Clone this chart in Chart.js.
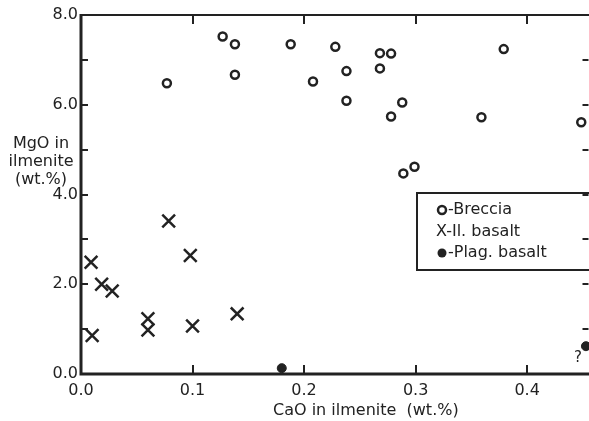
<!DOCTYPE html>
<html>
<head>
<meta charset="utf-8">
<script src="https://cdn.jsdelivr.net/npm/chart.js@4.4.1/dist/chart.umd.min.js"></script>
<style>
  html, body { margin: 0; padding: 0; background: #fff; overflow: hidden; }
  canvas { display: block; }
</style>
</head>
<body>
<canvas id="mgoChart" width="600" height="421"></canvas>
<script>
// ── values: CaO (wt.%) vs MgO (wt.%) in ilmenite
const brecciaCaO = [0.077, 0.127, 0.138, 0.138, 0.188, 0.228, 0.208, 0.238, 0.238, 0.268,
                    0.278, 0.268, 0.288, 0.278, 0.289, 0.299, 0.379, 0.359, 0.4485];
const brecciaMgO = [6.48, 7.52, 7.35, 6.67, 7.35, 7.29, 6.52, 6.75, 6.09, 7.15,
                    7.14, 6.81, 6.05, 5.74, 4.47, 4.62, 7.24, 5.72, 5.61];

const ilBasaltCaO = [0.009, 0.0185, 0.028, 0.010, 0.060, 0.060, 0.0786, 0.098, 0.100, 0.140];
const ilBasaltMgO = [2.49, 2.00, 1.85, 0.86, 1.23, 0.98, 3.41, 2.64, 1.07, 1.34];

const plagBasaltCaO = [0.180, 0.4527];
const plagBasaltMgO = [0.13, 0.62];

const xTicks = [0.0, 0.1, 0.2, 0.3, 0.4];
const yTicks = [0, 2, 4, 6, 8];
const yMinorTicks = [1, 2, 3, 4, 5, 6, 7];

const seriesNames = ["Breccia", "Il. basalt", "Plag. basalt"];
const xTitle = "CaO in ilmenite  (wt.%)";
const yTitle = ["MgO in", "ilmenite", "(wt.%)"];

const INK = "#222";
const FONT = "16px 'DejaVu Sans', sans-serif";

const toPoints = (xs, ys) => xs.map((x, i) => ({ x, y: ys[i] }));

// ── frame, inward ticks, legend box, titles (the right axis falls just off the page, as in the scan)
const framePlugin = {
  id: "frame",
  afterDraw(chart) {
    const { ctx, chartArea: a, scales: { x, y } } = chart;
    const W = chart.width;
    ctx.save();
    ctx.strokeStyle = INK;
    ctx.fillStyle = INK;
    ctx.lineCap = "butt";

    // axes
    ctx.lineWidth = 3;
    ctx.beginPath();
    ctx.moveTo(a.left, a.top - 1); ctx.lineTo(a.left, a.bottom + 1.5);
    ctx.moveTo(a.left - 1.5, a.bottom); ctx.lineTo(W, a.bottom);
    ctx.stroke();
    ctx.lineWidth = 2;
    ctx.beginPath();
    ctx.moveTo(a.left, a.top); ctx.lineTo(W, a.top);
    ctx.stroke();

    // ticks
    ctx.lineWidth = 2;
    ctx.beginPath();
    xTicks.filter(v => v > 0).forEach(v => {
      const px = Math.round(x.getPixelForValue(v));
      ctx.moveTo(px, a.bottom); ctx.lineTo(px, a.bottom - 9);
      ctx.moveTo(px, a.top); ctx.lineTo(px, a.top + 9);
    });
    yMinorTicks.forEach(v => {
      const py = Math.round(y.getPixelForValue(v));
      ctx.moveTo(a.left, py); ctx.lineTo(a.left + 7, py);
      ctx.moveTo(a.right, py); ctx.lineTo(a.right - 6, py);
    });
    ctx.stroke();

    // legend
    const lx = 417, ly = 193, lh = 77;
    ctx.lineWidth = 2;
    ctx.strokeRect(lx, ly, W - lx + 10, lh);
    ctx.font = FONT;
    ctx.textBaseline = "middle";
    ctx.textAlign = "left";
    const rows = [210, 232, 253];
    ctx.beginPath(); ctx.arc(442, rows[0], 4, 0, Math.PI * 2); ctx.lineWidth = 2.5; ctx.stroke();
    ctx.fillText("-" + seriesNames[0], 448, rows[0]);
    ctx.fillText("X-" + seriesNames[1], 436, rows[1]);
    ctx.beginPath(); ctx.arc(442, rows[2], 4.5, 0, Math.PI * 2); ctx.fill();
    ctx.fillText("-" + seriesNames[2], 448, rows[2]);

    // axis titles
    ctx.fillText(xTitle, 273, 411);
    ctx.textAlign = "center";
    yTitle.forEach((t, i) => ctx.fillText(t, 41, 144 + i * 18));

    // uncertain plag. basalt point at the right edge
    const q = chart.getDatasetMeta(2).data[1];
    ctx.font = "15px 'DejaVu Sans', sans-serif";
    ctx.fillText("?", q.x - 8, q.y + 12);
    ctx.restore();
  }
};

new Chart(document.getElementById("mgoChart"), {
  type: "scatter",
  data: {
    datasets: [
      {
        label: seriesNames[0],
        data: toPoints(brecciaCaO, brecciaMgO),
        pointStyle: "circle",
        pointRadius: 4,
        borderWidth: 2.5,
        borderColor: INK,
        backgroundColor: "rgba(255,255,255,0)",
        clip: false
      },
      {
        label: seriesNames[1],
        data: toPoints(ilBasaltCaO, ilBasaltMgO),
        pointStyle: "crossRot",
        pointRadius: 9,
        borderWidth: 2.5,
        borderColor: INK,
        clip: false
      },
      {
        label: seriesNames[2],
        data: toPoints(plagBasaltCaO, plagBasaltMgO),
        pointStyle: "circle",
        pointRadius: 4.5,
        borderWidth: 1,
        borderColor: INK,
        backgroundColor: INK,
        clip: false
      }
    ]
  },
  options: {
    responsive: false,
    animation: false,
    events: [],
    layout: { padding: { top: 15, right: 6, left: 0, bottom: 0 } },
    plugins: { legend: { display: false }, tooltip: { enabled: false } },
    scales: {
      x: {
        type: "linear",
        min: 0,
        max: 0.455,
        afterBuildTicks: s => { s.ticks = xTicks.map(v => ({ value: v })); },
        afterFit: s => { s.height = 47; },
        grid: { display: false, drawTicks: false },
        border: { display: false },
        ticks: {
          padding: 7,
          color: INK,
          font: { family: "'DejaVu Sans', sans-serif", size: 16 },
          maxRotation: 0,
          callback: v => v.toFixed(1)
        }
      },
      y: {
        type: "linear",
        min: 0,
        max: 8,
        afterBuildTicks: s => { s.ticks = yTicks.map(v => ({ value: v })); },
        afterFit: s => { s.width = 81; },
        grid: { display: false, drawTicks: false },
        border: { display: false },
        ticks: {
          padding: 3,
          color: INK,
          font: { family: "'DejaVu Sans', sans-serif", size: 16 },
          callback: v => v.toFixed(1)
        }
      }
    }
  },
  plugins: [framePlugin]
});
</script>
</body>
</html>
